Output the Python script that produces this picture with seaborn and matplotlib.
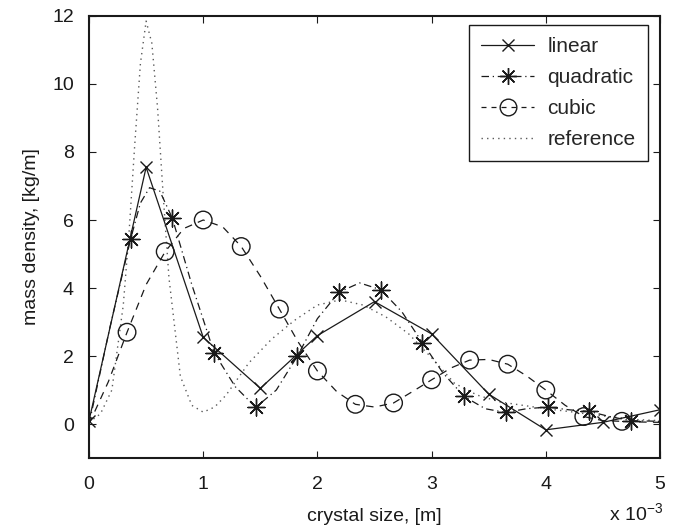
import matplotlib
matplotlib.use("Agg")
import matplotlib.pyplot as plt
from matplotlib.lines import Line2D
import seaborn as sns
import numpy as np

# ---------------- data (x in units of 1e-3 m) ----------------
lin_x = [0.0, 0.5, 1.0, 1.5, 2.0, 2.5, 3.0, 3.5, 4.0, 4.5, 5.0]
lin_y = [0.1, 7.55, 2.55, 1.05, 2.6, 3.6, 2.65, 0.88, -0.17, 0.05, 0.42]

quad_mx = [0.365, 0.73, 1.095, 1.46, 1.825, 2.19, 2.555, 2.92, 3.285, 3.65, 4.015, 4.38, 4.745]
quad_my = [5.45, 6.05, 2.1, 0.49, 2.0, 3.88, 3.95, 2.39, 0.81, 0.34, 0.5, 0.37, 0.1]
quad_cx = [0.0, 0.18, 0.365, 0.45, 0.53, 0.62, 0.73, 0.9, 1.095, 1.28, 1.46, 1.64,
           1.825, 2.0, 2.19, 2.37, 2.555, 2.74, 2.92, 3.1, 3.285, 3.47, 3.65, 3.83,
           4.015, 4.2, 4.38, 4.56, 4.745, 5.0]
quad_cy = [0.0, 2.8, 5.45, 6.5, 6.95, 6.85, 6.05, 4.1, 2.1, 1.1, 0.49, 1.0,
           2.0, 3.1, 3.88, 4.15, 3.95, 3.3, 2.39, 1.5, 0.81, 0.45, 0.34, 0.45,
           0.5, 0.42, 0.37, 0.22, 0.1, 0.08]

cub_mx = [0.333, 0.667, 1.0, 1.333, 1.667, 2.0, 2.333, 2.667, 3.0, 3.333, 3.667, 4.0, 4.333, 4.667]
cub_my = [2.7, 5.07, 6.0, 5.22, 3.38, 1.56, 0.58, 0.62, 1.3, 1.88, 1.76, 1.0, 0.22, 0.08]
cub_cx = [0.0, 0.17, 0.333, 0.5, 0.667, 0.83, 1.0, 1.17, 1.333, 1.5, 1.667, 1.83,
          2.0, 2.17, 2.333, 2.5, 2.667, 2.83, 3.0, 3.17, 3.333, 3.5, 3.667, 3.83,
          4.0, 4.17, 4.333, 4.5, 4.667, 4.83, 5.0]
cub_cy = [0.0, 1.25, 2.7, 4.1, 5.07, 5.75, 6.0, 5.8, 5.22, 4.35, 3.38, 2.42,
          1.56, 0.95, 0.58, 0.5, 0.62, 0.95, 1.3, 1.65, 1.88, 1.9, 1.76, 1.42,
          1.0, 0.55, 0.22, 0.1, 0.08, 0.06, 0.05]

ref_x = [0.0, 0.1, 0.2, 0.3, 0.35, 0.4, 0.45, 0.5, 0.55, 0.6, 0.65, 0.7, 0.8, 0.9,
         1.0, 1.1, 1.2, 1.4, 1.6, 1.8, 2.0, 2.2, 2.4, 2.6, 2.8, 3.0, 3.2, 3.4,
         3.6, 3.8, 4.0, 4.2, 4.4, 4.6, 4.8, 5.0]
ref_y = [0.05, 0.3, 1.0, 3.5, 5.6, 8.2, 10.6, 11.85, 11.2, 9.3, 6.7, 4.3, 1.4, 0.55,
         0.35, 0.5, 0.85, 1.8, 2.5, 3.05, 3.5, 3.65, 3.5, 3.15, 2.65, 1.95, 1.2, 0.85,
         0.65, 0.55, 0.45, 0.37, 0.28, 0.2, 0.13, 0.1]

labels = ["linear", "quadratic", "cubic", "reference"]
x_ticks = [0, 1, 2, 3, 4, 5]
y_ticks = [0, 2, 4, 6, 8, 10, 12]

# ---------------- style ----------------
sns.set_theme(style="white")
plt.rcParams["font.family"] = ["Liberation Sans", "DejaVu Sans"]
plt.rcParams["mathtext.fontset"] = "custom"
plt.rcParams["mathtext.rm"] = "Liberation Sans"

FS = 14
LFS = 15

fig = plt.figure(figsize=(6.76, 5.32), dpi=100)
ax = fig.add_axes([0.1317, 0.139, 0.8446, 0.831])

star = (8, 2, 0)
lw = 0.9
ref_col = "#5a5a5a"

sns.lineplot(x=ref_x, y=ref_y, ax=ax, color=ref_col, lw=1.0, linestyle=(0, (1, 3)),
             sort=False, estimator=None)
sns.lineplot(x=cub_cx, y=cub_cy, ax=ax, color="k", lw=lw, linestyle=(0, (6, 5)),
             sort=False, estimator=None)
sns.lineplot(x=quad_cx, y=quad_cy, ax=ax, color="k", lw=lw, linestyle=(0, (6, 3, 1, 3)),
             sort=False, estimator=None)
sns.lineplot(x=lin_x, y=lin_y, ax=ax, color="k", lw=lw, sort=False, estimator=None,
             marker="x", markersize=9, markeredgewidth=1.0, markeredgecolor="k")
sns.scatterplot(x=quad_mx, y=quad_my, ax=ax, marker=star, s=150, color="k",
                linewidths=1.0, edgecolor="k", zorder=4)
sns.scatterplot(x=cub_mx, y=cub_my, ax=ax, marker="o", s=160, facecolors="none",
                edgecolors="k", linewidths=1.0, zorder=4)

ax.set_xlim(0, 5)
ax.set_ylim(-1, 12)
ax.set_xticks(x_ticks)
ax.set_yticks(y_ticks)
ax.set_xticklabels([str(t) for t in x_ticks])
ax.set_yticklabels([str(t) for t in y_ticks])
ax.tick_params(direction="in", length=5, width=0.8, color="k", labelsize=FS,
               top=True, right=True, bottom=True, left=True, labelcolor="k")
ax.tick_params(axis="y", pad=11)
ax.tick_params(axis="x", pad=13)
for s in ax.spines.values():
    s.set_visible(True)
    s.set_color("k")
    s.set_linewidth(1.5)

ax.set_xlabel("crystal size, [m]", fontsize=FS, color="k", labelpad=11)
ax.set_ylabel("mass density, [kg/m]", fontsize=FS, color="k", labelpad=9)
ax.text(1.006, -0.125, r"x 10$^{-3}$", transform=ax.transAxes, ha="right", va="center",
        fontsize=FS, color="k")

handles = [
    Line2D([], [], color="k", lw=lw, marker="x", markersize=9, markeredgewidth=1.0),
    Line2D([], [], color="k", lw=lw, linestyle=(0, (6, 3, 1, 3)), marker=star,
           markersize=12, markeredgewidth=1.0),
    Line2D([], [], color="k", lw=lw, linestyle=(0, (4, 4)), marker="o", markersize=12,
           markerfacecolor="none", markeredgewidth=1.0),
    Line2D([], [], color=ref_col, lw=1.0, linestyle=(0, (1, 3))),
]
leg = ax.legend(handles, labels, loc="upper right", bbox_to_anchor=(0.979, 0.980),
                fontsize=LFS, frameon=True, fancybox=False, framealpha=1,
                edgecolor="k", handlelength=2.55, handletextpad=0.62,
                borderpad=0.6, labelspacing=0.57, borderaxespad=0.0)
leg.get_frame().set_linewidth(1.0)

fig.savefig("out.png", dpi=100)
